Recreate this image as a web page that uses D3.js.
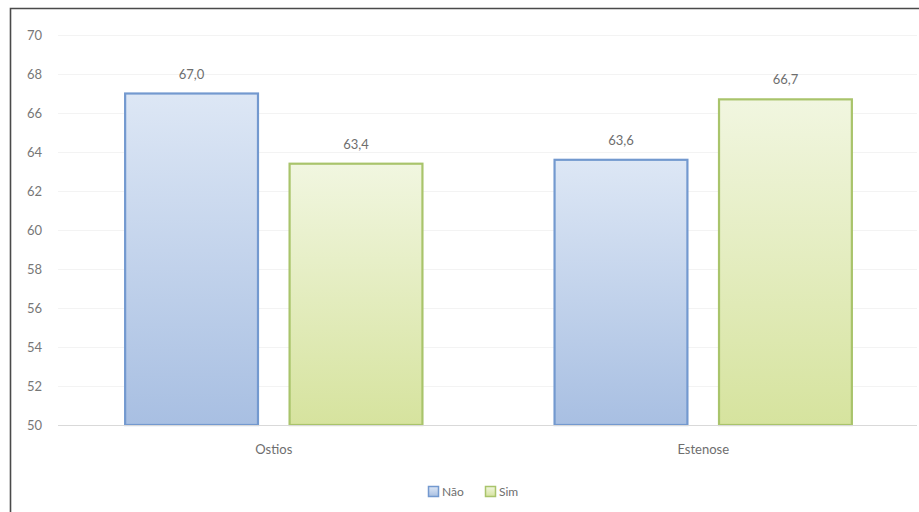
<!DOCTYPE html>
<html>
<head>
<meta charset="utf-8">
<script src="https://cdn.jsdelivr.net/npm/d3@7/dist/d3.min.js"></script>
<style>
  html, body { margin: 0; padding: 0; background: #fff; }
  svg { display: block; }
  text { font-family: Lato, "Open Sans", "Liberation Sans", sans-serif; }
</style>
</head>
<body>
<svg id="chart" width="919" height="512"></svg>
<script>
// Grouped bar data
const categories = ["Ostios", "Estenose"];
const seriesNames = ["Não", "Sim"];
const naoValues = [67.0, 63.6];
const simValues = [63.4, 66.7];
const yTicks = [50, 52, 54, 56, 58, 60, 62, 64, 66, 68, 70];

const seriesValues = [naoValues, simValues];
const fills = [
  { top: "#dde7f5", bottom: "#a8bfe2", stroke: "#7399cf" },
  { top: "#f1f6e0", bottom: "#d6e39e", stroke: "#a9c46b" }
];

const svg = d3.select("#chart");
const W = 919, H = 512;
const plot = { left: 58, right: 919, top: 35, bottom: 425 };

// Outer frame (continues past the right and bottom edges)
svg.append("path")
  .attr("d", `M10.5,${H + 2} L10.5,8.5 L${W + 2},8.5`)
  .attr("fill", "none")
  .attr("stroke", "#4a4a4a")
  .attr("stroke-width", 1.6);

const defs = svg.append("defs");
fills.forEach((f, i) => {
  const g = defs.append("linearGradient")
    .attr("id", "grad" + i)
    .attr("x1", 0).attr("y1", 0).attr("x2", 0).attr("y2", 1);
  g.append("stop").attr("offset", "0%").attr("stop-color", f.top);
  g.append("stop").attr("offset", "100%").attr("stop-color", f.bottom);
});

const y = d3.scaleLinear().domain([50, 70]).range([plot.bottom, plot.top]);
const x0 = d3.scaleBand().domain(categories)
  .range([plot.left, plot.right])
  .paddingInner(0.303).paddingOuter(0.154);
const x1 = d3.scaleBand().domain(seriesNames)
  .range([0, x0.bandwidth()])
  .paddingInner(0.18);

// Gridlines
svg.append("g")
  .selectAll("line")
  .data(yTicks.filter(t => t > 50))
  .join("line")
  .attr("x1", plot.left).attr("x2", plot.right - 2)
  .attr("y1", d => y(d) + 0.5).attr("y2", d => y(d) + 0.5)
  .attr("stroke", "#f3f3f3")
  .attr("stroke-width", 1);

// Y axis labels
const yAxis = d3.axisLeft(y).tickValues(yTicks).tickSize(0).tickPadding(0)
  .tickFormat(d3.format("d"));
const ya = svg.append("g").attr("transform", `translate(${plot.left - 16},0)`).call(yAxis);
ya.select(".domain").remove();
ya.selectAll("text")
  .attr("fill", "#777")
  .attr("font-size", 13);

// Bars
const groups = svg.append("g")
  .selectAll("g")
  .data(categories)
  .join("g")
  .attr("transform", d => `translate(${x0(d)},0)`);

groups.selectAll("rect")
  .data((c, ci) => seriesNames.map((s, si) => ({ s, si, v: seriesValues[si][ci] })))
  .join("rect")
  .attr("x", d => x1(d.s) + 1)
  .attr("width", x1.bandwidth() - 2)
  .attr("y", d => y(d.v))
  .attr("height", d => y(50) - y(d.v))
  .attr("fill", d => `url(#grad${d.si})`)
  .attr("stroke", d => fills[d.si].stroke)
  .attr("stroke-width", 2.2);

// Value labels
groups.selectAll("text.val")
  .data((c, ci) => seriesNames.map((s, si) => ({ s, si, v: seriesValues[si][ci] })))
  .join("text")
  .attr("class", "val")
  .attr("x", d => x1(d.s) + x1.bandwidth() / 2)
  .attr("y", d => y(d.v) - 15)
  .attr("text-anchor", "middle")
  .attr("fill", "#6e6e6e")
  .attr("font-size", 13)
  .text(d => d3.format(".1f")(d.v).replace(".", ","));

// X axis baseline and category labels
svg.append("line")
  .attr("x1", plot.left).attr("x2", plot.right - 2)
  .attr("y1", plot.bottom + 0.5).attr("y2", plot.bottom + 0.5)
  .attr("stroke", "#d9d9d9");

const xAxis = d3.axisBottom(x0).tickSize(0).tickPadding(0);
const xa = svg.append("g").attr("transform", `translate(0,${plot.bottom + 29})`).call(xAxis);
xa.select(".domain").remove();
xa.selectAll("text")
  .attr("fill", "#6e6e6e")
  .attr("font-size", 13)
  .attr("dy", 0);

// Legend
const legend = svg.append("g").attr("transform", "translate(428,486)");
const legendX = [0, 57];
seriesNames.forEach((s, i) => {
  const g = legend.append("g").attr("transform", `translate(${legendX[i]},0)`);
  g.append("rect")
    .attr("x", 0.5).attr("y", 0.5)
    .attr("width", 10).attr("height", 10)
    .attr("fill", `url(#grad${i})`)
    .attr("stroke", fills[i].stroke)
    .attr("stroke-width", 1.5);
  g.append("text")
    .attr("x", 14).attr("y", 10)
    .attr("fill", "#6e6e6e")
    .attr("font-size", 12)
    .text(s);
});
</script>
</body>
</html>
